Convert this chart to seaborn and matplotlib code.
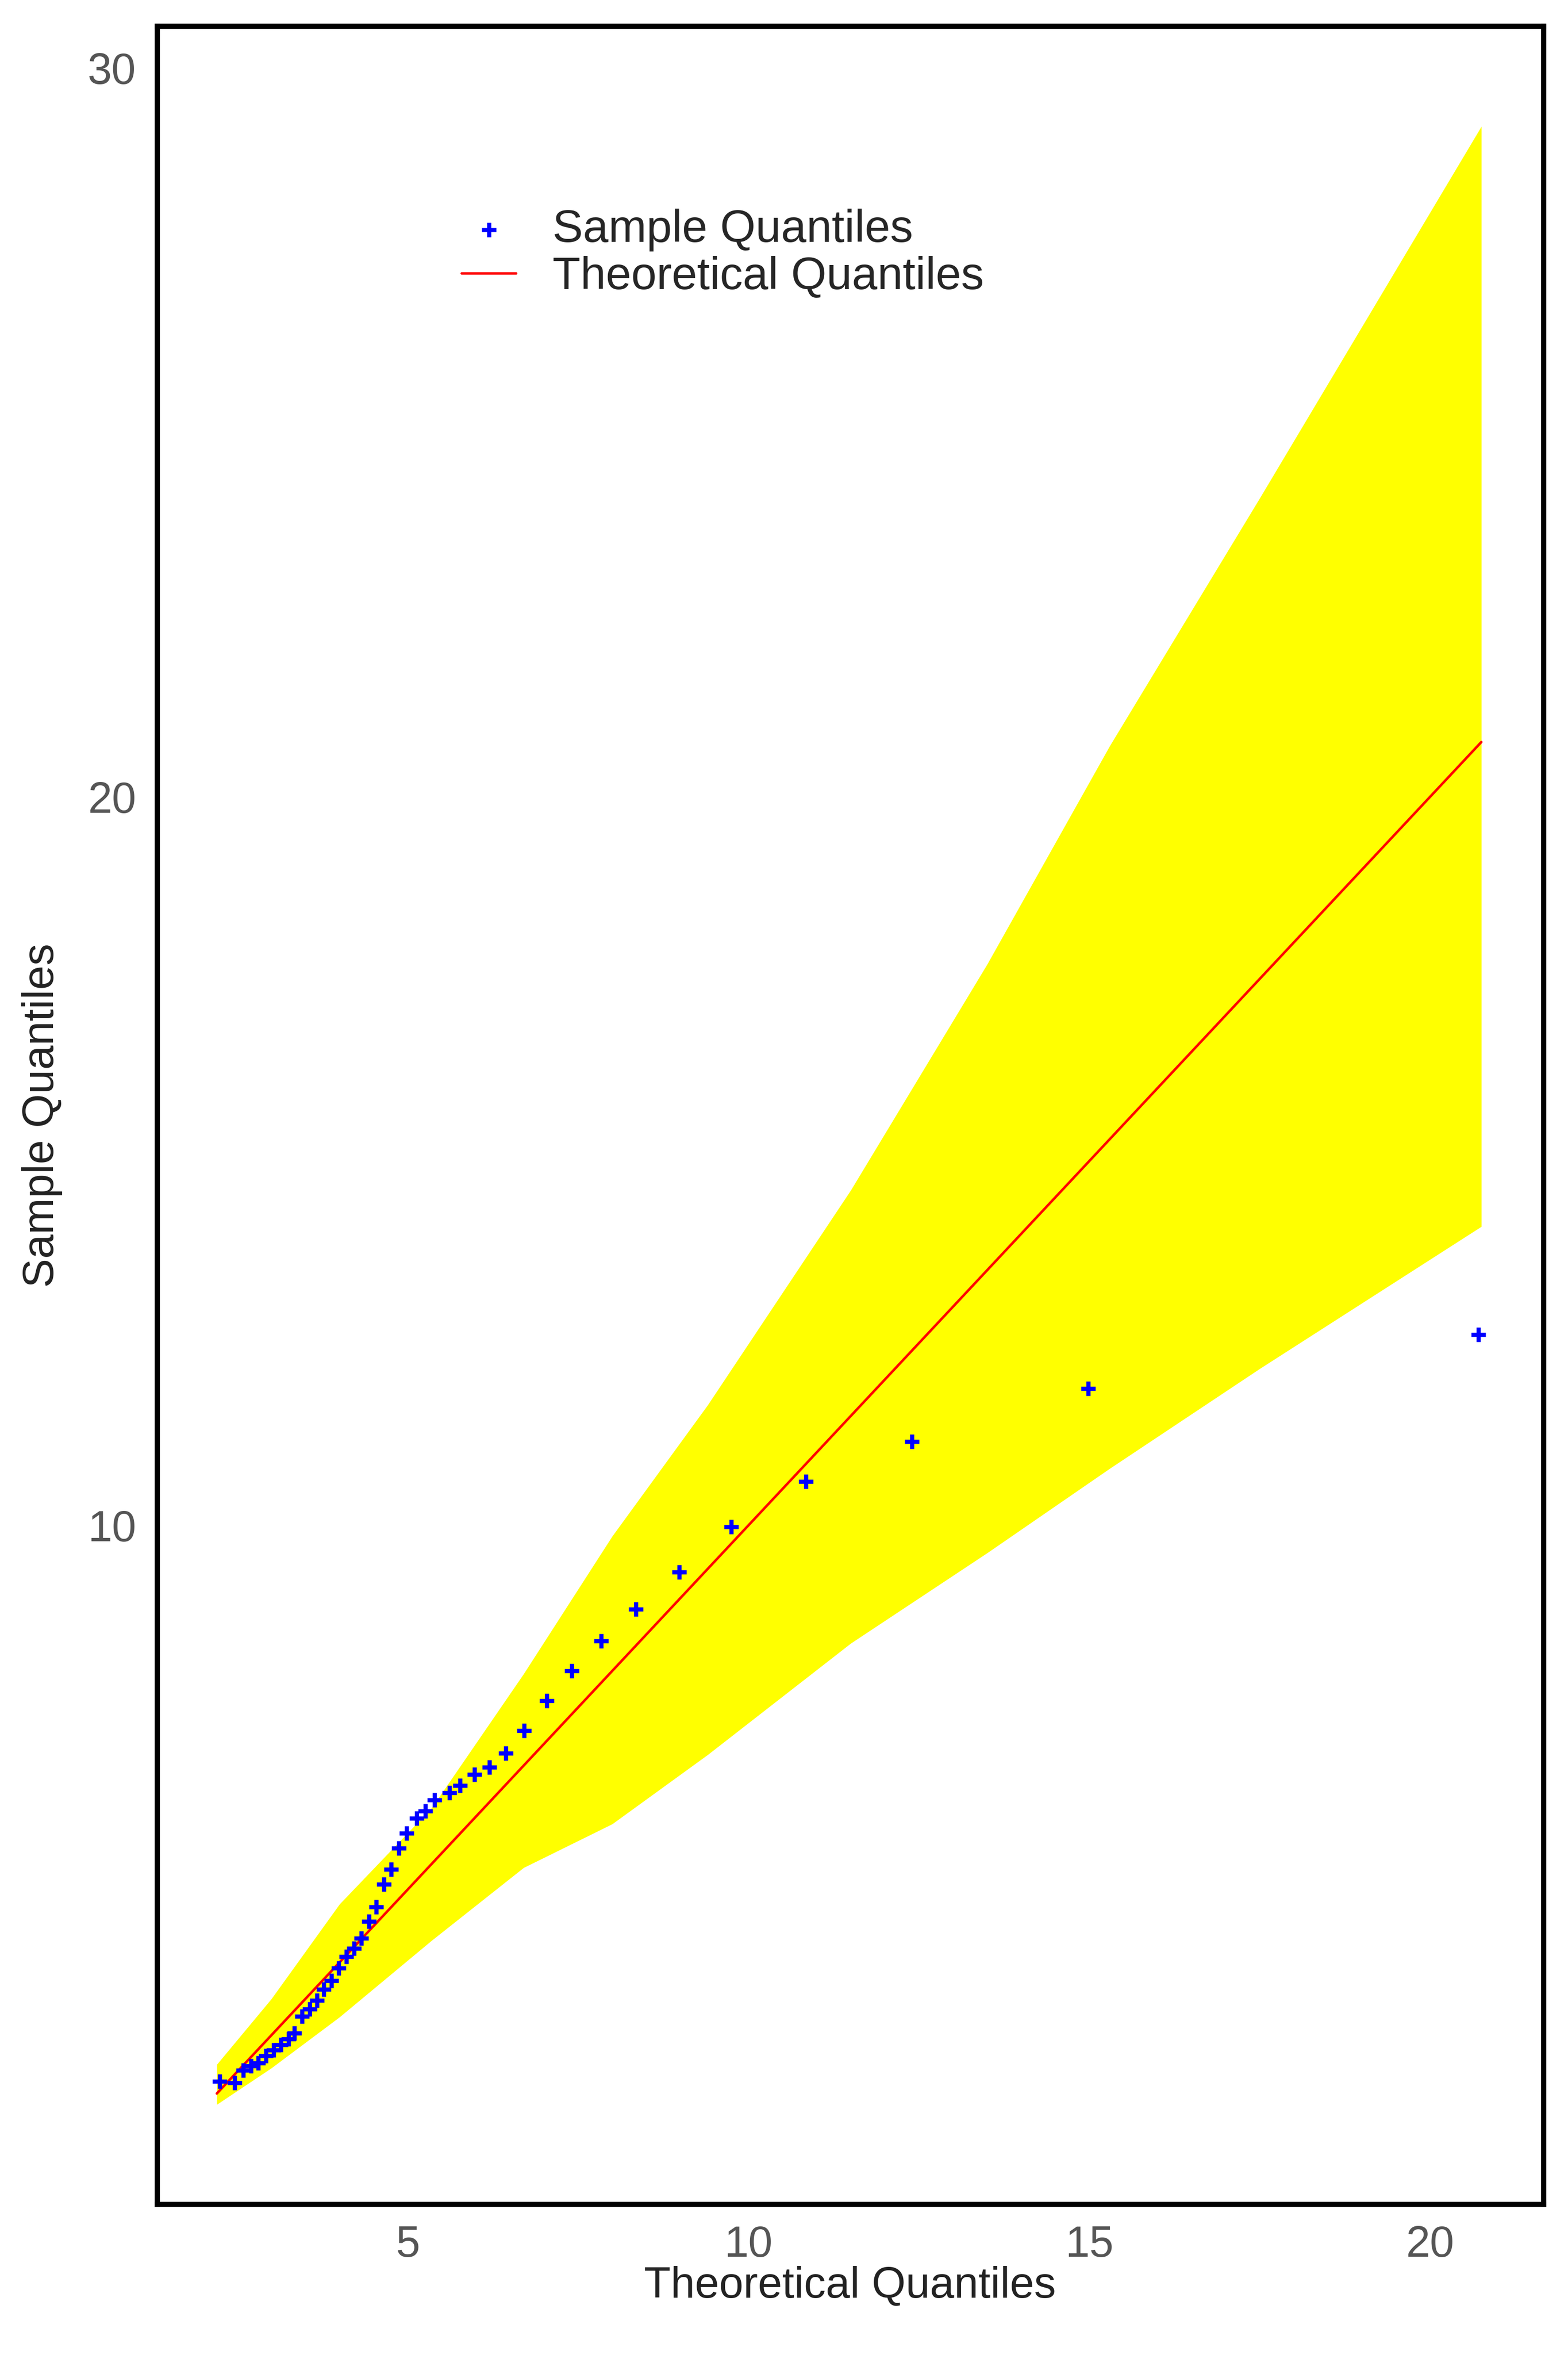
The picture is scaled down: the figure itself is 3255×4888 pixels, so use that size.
import numpy as np
import pandas as pd
import matplotlib
matplotlib.use("Agg")
import matplotlib.pyplot as plt
import seaborn as sns

sns.set_theme(style="white")
plt.rcParams['font.family'] = ['Liberation Sans', 'DejaVu Sans']

# sample vs theoretical quantiles
theo = [2.24, 2.46, 2.59, 2.70, 2.81, 2.92, 3.03, 3.14, 3.25, 3.34, 3.45, 3.56, 3.67,
        3.77, 3.88, 3.99, 4.10, 4.21, 4.32, 4.43, 4.54, 4.65, 4.76, 4.87, 4.98, 5.13,
        5.26, 5.39, 5.61, 5.77, 5.98, 6.20, 6.44, 6.71, 7.04, 7.41, 7.84, 8.35, 8.98,
        9.75, 10.84, 12.40, 14.98, 20.71]
samp = [2.37, 2.35, 2.52, 2.58, 2.62, 2.72, 2.80, 2.87, 2.95, 3.03, 3.26, 3.36, 3.48,
        3.63, 3.75, 3.92, 4.08, 4.19, 4.33, 4.56, 4.76, 5.07, 5.28, 5.57, 5.77, 5.98,
        6.08, 6.23, 6.33, 6.43, 6.58, 6.68, 6.87, 7.18, 7.59, 8.00, 8.41, 8.85, 9.36,
        9.98, 10.60, 11.15, 11.88, 12.62]

# confidence band envelope
band_x = [2.2, 3.0, 4.0, 5.35, 6.7, 8.0, 9.4, 11.5, 13.5, 15.3, 17.5, 20.75]
band_upper = [2.6, 3.5, 4.8, 6.12, 7.96, 9.85, 11.65, 14.6, 17.7, 20.7, 24.1, 29.2]
band_lower = [2.05, 2.55, 3.25, 4.3, 5.3, 5.9, 6.85, 8.38, 9.62, 10.78, 12.15, 14.1]

line_x = [2.2, 20.75]

fig = plt.figure(figsize=(10.503, 15.768), dpi=310)
ax = fig.add_axes([0.1, 0.064, 0.884, 0.925])

ax.fill_between(band_x, band_lower, band_upper, color="#ffff00", linewidth=0)
sns.lineplot(x=line_x, y=line_x, color="red", linewidth=1.2, ax=ax,
             label="Theoretical Quantiles")
sns.scatterplot(x=theo, y=samp, marker="+", color="blue", s=50, linewidth=2,
                ax=ax, label="Sample Quantiles", zorder=5)

ax.set_xlim(1.32, 21.66)
ax.set_ylim(0.68, 30.58)
ax.set_xticks([5, 10, 15, 20])
ax.set_yticks([10, 20, 30])
ax.tick_params(labelsize=21, labelcolor="#555555", length=0, pad=10)
ax.set_xlabel("Theoretical Quantiles", fontsize=21, color="#222222", labelpad=0)
ax.set_ylabel("Sample Quantiles", fontsize=21, color="#222222", labelpad=12)
for s in ax.spines.values():
    s.set_color("black")
    s.set_linewidth(2.5)

h, l = ax.get_legend_handles_labels()
ax.legend(h[::-1], l[::-1], loc="upper left", bbox_to_anchor=(0.19, 0.935),
          frameon=False, fontsize=22, handlelength=1.2, labelspacing=0.1)

fig.savefig("out.png", dpi=310)
